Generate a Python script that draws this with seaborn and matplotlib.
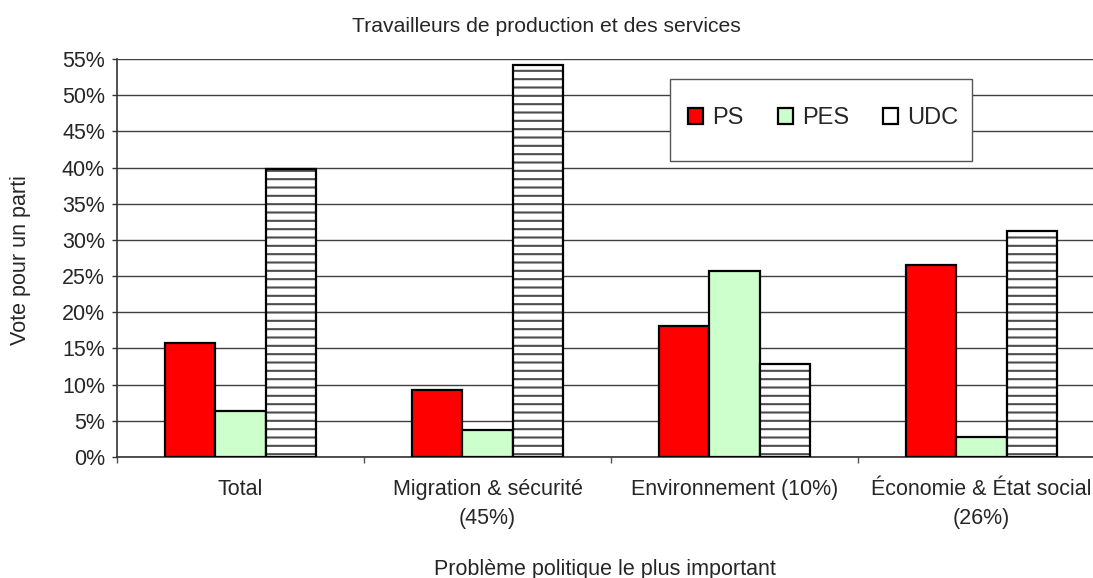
import matplotlib
matplotlib.use("Agg")
import matplotlib.pyplot as plt
import matplotlib.colors as mcolors
from matplotlib.patches import Rectangle
import seaborn as sns
import pandas as pd
from matplotlib.ticker import FuncFormatter, FixedLocator

categories = ["Total", "Migration & sécurité\n(45%)", "Environnement (10%)", "Économie & État social\n(26%)"]
parties = ["PS", "PES", "UDC"]
ps_values = [15.8, 9.2, 18.1, 26.5]
pes_values = [6.4, 3.7, 25.7, 2.8]
udc_values = [39.8, 54.2, 12.8, 31.2]
colors = {"PS": "#ff0000", "PES": "#ccffcc", "UDC": "#ffffff"}

rows = []
for cat, a, b, c in zip(categories, ps_values, pes_values, udc_values):
    rows.append((cat, "PS", a))
    rows.append((cat, "PES", b))
    rows.append((cat, "UDC", c))
df = pd.DataFrame(rows, columns=["cat", "party", "val"])

sns.set_style("white")
plt.rcParams['font.family'] = ['Liberation Sans', 'DejaVu Sans']
plt.rcParams['hatch.linewidth'] = 1.5

FS = 15.5
fig = plt.figure(figsize=(10.93, 5.78), dpi=100)
W, H = 1093, 578
AX_L, AX_T, AX_B = 117, 59, 457
ax = fig.add_axes([AX_L / W, (H - AX_B) / H, (W - AX_L) / W, (AX_B - AX_T) / H])

sns.barplot(data=df, x="cat", y="val", hue="party", order=categories, hue_order=parties,
            palette=colors, width=0.61, gap=0, edgecolor="black", linewidth=1.6,
            saturation=1, ax=ax, zorder=3)

hatch_rgba = mcolors.to_rgba("#4d4d4d")
for bar in ax.containers[2]:
    bar.set_hatch("--")
    bar._hatch_color = hatch_rgba

ax.set_ylim(0, 55)
ax.set_xlim(-0.5, -0.5 + (W - AX_L) / 247)
ax.yaxis.set_major_locator(FixedLocator(list(range(0, 56, 5))))
ax.yaxis.set_major_formatter(FuncFormatter(lambda v, p: f"{int(round(v))}%"))
ax.grid(axis="y", color="#404040", linewidth=1.0, zorder=0)
ax.set_axisbelow(True)

for s in ["top", "right"]:
    ax.spines[s].set_visible(False)
for s in ["left", "bottom"]:
    ax.spines[s].set_color("#333333")
    ax.spines[s].set_linewidth(1.2)

ax.tick_params(axis="y", which="major", length=3.6, width=1, color="#333333", labelsize=FS, pad=5, left=True)
ax.tick_params(axis="x", which="major", length=0, labelsize=FS, pad=16)
for lbl in ax.get_xticklabels():
    lbl.set_linespacing(1.5)
ax.set_xticks([-0.5, 0.5, 1.5, 2.5], minor=True)
ax.tick_params(axis="x", which="minor", length=4.5, width=1, color="#555555", bottom=True)

ax.set_xlabel("Problème politique le plus important", fontsize=FS)
ax.xaxis.set_label_coords(0.5, (AX_B - 575) / (AX_B - AX_T))
ax.xaxis.label.set_va("baseline")
ax.set_ylabel("Vote pour un parti", fontsize=FS)
ax.yaxis.set_label_coords((26 - AX_L) / (W - AX_L), (AX_B - 260) / (AX_B - AX_T))
ax.yaxis.label.set_va("baseline")
fig.text(0.5, 1 - 32 / H, "Travailleurs de production et des services", fontsize=15.2,
         ha="center", va="baseline")

# legend box
ax.add_patch(Rectangle((670 / W, 1 - 161 / H), (972 - 670) / W, (161 - 79) / H,
                       transform=fig.transFigure, facecolor="white", edgecolor="#555555",
                       linewidth=1.0, zorder=4, clip_on=False))
leg = ax.legend(loc="center left", bbox_to_anchor=(688 / W, 1 - 118 / H),
                bbox_transform=fig.transFigure,
                ncol=3, frameon=False, fontsize=17, handlelength=0.64,
                handleheight=0.64, handletextpad=0.38, columnspacing=1.45, borderpad=0,
                borderaxespad=0)
leg.set_zorder(6)

fig.savefig("out.png", dpi=100)
